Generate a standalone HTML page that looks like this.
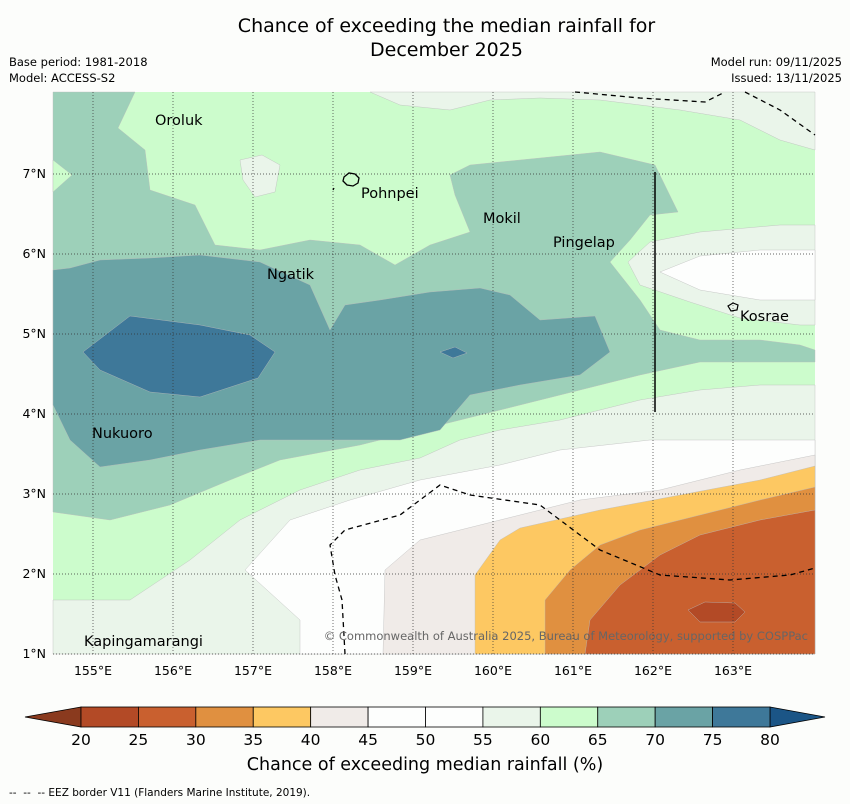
<!DOCTYPE html>
<html><head><meta charset="utf-8"><style>
body{margin:0;background:#fcfdfb;font-family:"DejaVu Sans","Liberation Sans",sans-serif;}
#wrap{position:relative;width:850px;height:804px;overflow:hidden;background:#fcfdfb;}
.t{position:absolute;color:#000;white-space:nowrap;}
svg text{font-family:"DejaVu Sans","Liberation Sans",sans-serif;}
</style></head><body>
<div id="wrap">
<div class="t" style="left:0;width:893px;top:14px;text-align:center;font-size:19px;line-height:24px;">Chance of exceeding the median rainfall for<br>December 2025</div>
<div class="t" style="left:9px;top:55px;font-size:11.5px;">Base period: 1981-2018</div>
<div class="t" style="left:9px;top:71px;font-size:11.5px;">Model: ACCESS-S2</div>
<div class="t" style="right:8px;top:55px;font-size:11.5px;">Model run: 09/11/2025</div>
<div class="t" style="right:8px;top:71px;font-size:11.5px;">Issued: 13/11/2025</div>
<svg id="svg" width="850" height="804" style="position:absolute;left:0;top:0"></svg>
<div class="t" style="left:0;width:850px;top:755px;text-align:center;font-size:17.5px;">Chance of exceeding median rainfall (%)</div>
<div class="t" style="left:9px;top:787px;font-size:10.5px;">-- &nbsp;-- &nbsp;-- EEZ border V11 (Flanders Marine Institute, 2019).</div>
</div>
<script>
const levels=[20,25,30,35,40,45,50,55,60,65,70,75,80];
const colors=["#b34a26","#c9602f","#e09040","#fdc862","#f0ebe8","#fdfefd","#fdfefd","#eaf5ea","#ccfccc","#9dd0b9","#6aa3a5","#3e7899"];
const lonTicks=[155,156,157,158,159,160,161,162,163];
const latTicks=[1,2,3,4,5,6,7];
const contours=[
[7,[[370,92],[815,92],[815,150],[780,140],[740,120],[680,110],[600,100],[540,98],[490,100],[450,110],[400,105]]],
[9,[[53,92],[135,92],[118,128],[145,150],[150,190],[195,205],[215,245],[260,250],[310,240],[360,245],[395,265],[430,245],[470,232],[455,195],[450,175],[470,165],[600,152],[655,165],[678,212],[650,215],[630,240],[610,262],[640,300],[660,330],[700,340],[760,340],[800,345],[815,350],[815,362],[700,362],[640,375],[580,390],[500,410],[420,430],[360,445],[280,460],[230,480],[170,505],[110,520],[53,512]]],
[8,[[53,160],[72,175],[53,192]]],
[7,[[240,160],[262,155],[280,165],[275,192],[255,197],[243,180]]],
[7,[[815,225],[780,225],[700,232],[650,242],[628,262],[640,285],[690,302],[740,318],[800,325],[815,325]]],
[5,[[660,272],[700,256],[760,250],[815,250],[815,300],[760,300],[700,290]]],
[10,[[53,270],[70,268],[100,260],[150,258],[200,255],[260,262],[310,285],[330,330],[345,305],[380,300],[430,292],[480,288],[510,295],[540,320],[595,316],[610,352],[580,375],[520,385],[470,395],[440,430],[400,440],[340,440],[260,440],[200,450],[150,460],[100,467],[70,440],[53,405]]],
[11,[[83,352],[130,316],[200,325],[250,335],[275,352],[258,378],[200,397],[150,392],[100,370]]],
[11,[[440,352],[455,347],[467,353],[453,358]]],
[7,[[53,600],[130,600],[190,560],[240,520],[300,490],[360,470],[420,458],[460,440],[500,430],[560,420],[640,400],[700,390],[760,385],[815,385],[815,654],[53,654]]],
[5,[[300,654],[300,620],[245,570],[290,520],[350,500],[420,480],[500,465],[560,450],[650,440],[720,440],[815,440],[815,654]]],
[4,[[383,654],[385,570],[420,540],[500,520],[580,500],[660,490],[740,470],[815,455],[815,654]]],
[3,[[475,654],[475,575],[500,540],[520,528],[600,510],[680,495],[760,480],[815,466],[815,654]]],
[2,[[545,654],[545,600],[570,570],[600,545],[640,530],[700,515],[760,500],[815,487],[815,654]]],
[1,[[585,654],[590,620],[620,585],[660,555],[700,535],[760,520],[815,510],[815,654]]],
[0,[[688,610],[705,602],[735,603],[745,612],[735,622],[700,622]]]
];
const eez=[
[[575,92],[640,98],[705,102],[725,92]],
[[745,92],[780,110],[815,135]],
[[345,654],[342,600],[335,575],[330,545],[345,530],[400,515],[440,485],[470,495],[540,505],[560,520],[600,550],[660,575],[730,580],[790,575],[815,568]]
];
const places=[["Oroluk",155,120],["Pohnpei",361,193],["Mokil",483,218],["Pingelap",553,242],["Ngatik",267,274],["Kosrae",740,316],["Nukuoro",92,433],["Kapingamarangi",84,641]];
const X0=53,X1=815,Y0=92,Y1=654;
const xLon=l=>X0+(l-154.5)*80;
const yLat=l=>Y1-(l-1)*80;
const svg=document.getElementById('svg');
const NS="http://www.w3.org/2000/svg";
function mk(t,a,p){const e=document.createElementNS(NS,t);for(const k in a)e.setAttribute(k,a[k]);(p||svg).appendChild(e);return e;}
const bg=mk('rect',{x:X0,y:Y0,width:X1-X0,height:Y1-Y0,fill:colors[8]});


contours.forEach((c,i)=>{
 const p=mk('polygon',{points:c[1].map(q=>q.join(',')).join(' '),fill:colors[c[0]],stroke:'#bbb','stroke-width':0.4});
 
 
});
lonTicks.forEach(l=>{
 const g=mk('line',{x1:xLon(l),x2:xLon(l),y1:Y0,y2:Y1,stroke:'#333','stroke-width':0.7,'stroke-dasharray':'1,2'});
 
 
 const t=mk('text',{x:xLon(l),y:675,'text-anchor':'middle','font-size':12.5});
 t.textContent=l+'°E';
 
 
});
latTicks.forEach(l=>{
 const g=mk('line',{x1:X0,x2:X1,y1:yLat(l),y2:yLat(l),stroke:'#333','stroke-width':0.7,'stroke-dasharray':'1,2'});
 
 
 const t=mk('text',{x:46,y:yLat(l)+4,'text-anchor':'end','font-size':12.5});
 t.textContent=l+'°N';
 
 
});
eez.forEach(e=>{
 const p=mk('polyline',{points:e.map(q=>q.join(',')).join(' '),fill:'none',stroke:'#000','stroke-width':1.3,'stroke-dasharray':'5,4'});
 
 
});
const vl=mk('line',{x1:655,x2:655,y1:172,y2:412,stroke:'#000','stroke-width':1.5});


const isl=mk('path',{d:'M344,177 l5,-4 6,1 4,4 -1,5 -5,3 -6,-1 -4,-4z M333,190 l1,-2',fill:'none',stroke:'#000','stroke-width':1.3});


const kos=mk('path',{d:'M728,306 l5,-3 5,2 -1,5 -6,1z',fill:'none',stroke:'#000','stroke-width':1.2});


places.forEach(p=>{
 const t=mk('text',{x:p[1],y:p[2]+5,'font-size':14.5});
 t.textContent=p[0];
 
 
});
const cp=mk('text',{x:808,y:640,'text-anchor':'end','font-size':11.5,fill:'#666'});
cp.textContent='© Commonwealth of Australia 2025, Bureau of Meteorology, supported by COSPPac';


const CB0=81,CB1=770,CBY=707,CBH=20,w=(CB1-CB0)/colors.length;
const lt=mk('polygon',{points:`${CB0},${CBY} 25,${CBY+CBH/2} ${CB0},${CBY+CBH}`,fill:'#8a3a1e',stroke:'#000','stroke-width':0.8});


const rt=mk('polygon',{points:`${CB1},${CBY} 825,${CBY+CBH/2} ${CB1},${CBY+CBH}`,fill:'#1b5586',stroke:'#000','stroke-width':0.8});


colors.forEach((c,i)=>{
 const r=mk('rect',{x:CB0+i*w,y:CBY,width:w,height:CBH,fill:c,stroke:'#000','stroke-width':0.8});
 
 
});
levels.forEach((l,i)=>{
 const t=mk('text',{x:CB0+i*w,y:745,'text-anchor':'middle','font-size':15.5});
 t.textContent=l;
 
 
});
</script>
</body></html>
